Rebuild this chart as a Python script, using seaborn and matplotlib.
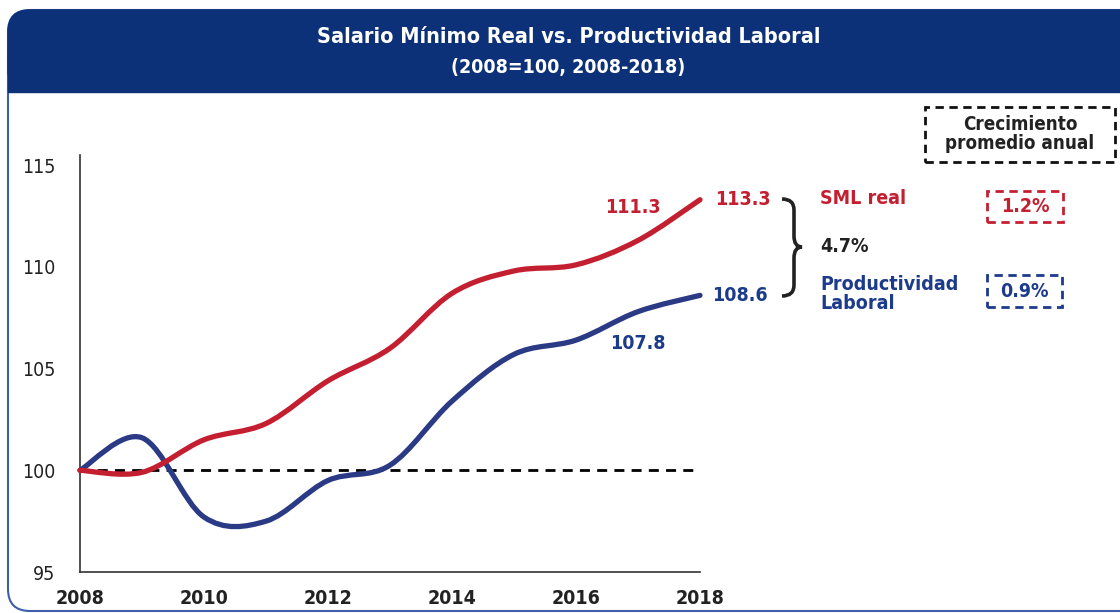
import numpy as np
import matplotlib
matplotlib.use('Agg')
import matplotlib.pyplot as plt
import seaborn as sns
from matplotlib.path import Path
from matplotlib.patches import PathPatch, FancyBboxPatch, Rectangle
from matplotlib.transforms import IdentityTransform

# 数据 (2008=100)
years = [2008, 2009, 2010, 2011, 2012, 2013, 2014, 2015, 2016, 2017, 2018]
sml_real = [100.0, 99.9, 101.5, 102.3, 104.4, 106.0, 108.7, 109.8, 110.1, 111.3, 113.3]
productividad = [100.0, 101.6, 97.7, 97.5, 99.5, 100.25, 103.4, 105.7, 106.4, 107.8, 108.6]
year_ticks = [2008, 2010, 2012, 2014, 2016, 2018]
y_ticks = [95, 100, 105, 110, 115]
brecha = '4.7%'
crec_sml = '1.2%'
crec_prod = '0.9%'

RED = '#c41f30'
NAVY = '#1d3b8b'
LINE_BLUE = '#2b3a85'
BANNER = '#0d3179'
BORDER = '#3d5ea8'

sns.set_theme(style='white')
plt.rcParams['font.family'] = ['DejaVu Sans']
plt.rcParams['font.stretch'] = 'condensed'

W, H = 1120, 613
fig = plt.figure(figsize=(W / 100, H / 100), dpi=100)
fig.patch.set_facecolor('white')


def px(x, y):
    # 像素坐标 (左上原点) -> 图坐标
    return x / W, 1 - y / H


# 外框和标题栏
outer = FancyBboxPatch((8, H - 611), 1140, 601, boxstyle='round,pad=0,rounding_size=22',
                       transform=IdentityTransform(), facecolor='white', edgecolor=BORDER,
                       lw=1.5, zorder=-10)
fig.patches.append(outer)
banner = FancyBboxPatch((8, H - 92), 1140, 82, boxstyle='round,pad=0,rounding_size=22',
                        transform=IdentityTransform(), facecolor=BANNER, edgecolor=BANNER,
                        lw=1, zorder=-9)
fig.patches.append(banner)
fig.patches.append(Rectangle((8, H - 92), 1140, 40, transform=IdentityTransform(),
                             facecolor=BANNER, edgecolor=BANNER, lw=1, zorder=-8))

fig.text(*px(569, 37), 'Salario Mínimo Real vs. Productividad Laboral', color='white',
         fontsize=15.5, fontweight='bold', ha='center', va='center')
fig.text(*px(568, 68), '(2008=100, 2008-2018)', color='white',
         fontsize=14, fontweight='bold', ha='center', va='center')

# 主图
ax = fig.add_axes([80 / W, 1 - 572 / H, 620 / W, (572 - 155) / H])
ax.set_facecolor('none')


def smooth_path(xs, ys):
    # 平滑曲线 (类似 Excel 的平滑线)
    p = np.column_stack([xs, ys]).astype(float)
    pe = np.vstack([p[0], p, p[-1]])
    verts = [p[0]]
    codes = [Path.MOVETO]
    for i in range(len(p) - 1):
        p0, p1, p2, p3 = pe[i], pe[i + 1], pe[i + 2], pe[i + 3]
        verts += [p1 + (p2 - p0) / 6, p2 - (p3 - p1) / 6, p2]
        codes += [Path.CURVE4] * 3
    return Path(verts, codes)


ax.axhline(100, color='black', lw=2, ls=(0, (3.6, 2.6)), zorder=2)
for vals, c in [(productividad, LINE_BLUE), (sml_real, RED)]:
    ax.add_patch(PathPatch(smooth_path(years, vals), facecolor='none', edgecolor=c,
                           lw=3.8, capstyle='round', joinstyle='round', clip_on=False, zorder=3))

ax.set_xlim(2008, 2018)
ax.set_ylim(95, 115.5)
ax.set_xticks(year_ticks)
ax.set_xticklabels([str(y) for y in year_ticks], fontsize=14, fontweight='bold', color='#222222')
ax.set_yticks(y_ticks)
ax.set_yticklabels([str(y) for y in y_ticks], fontsize=14, color='#222222')
ax.tick_params(length=0)
ax.tick_params(axis='x', pad=12)
ax.tick_params(axis='y', pad=18)
sns.despine(ax=ax)
for s in ['left', 'bottom']:
    ax.spines[s].set_color('#333333')
    ax.spines[s].set_linewidth(1.2)

# 数据标签
lab = dict(fontsize=14, fontweight='bold', ha='center', va='center', textcoords='offset points')
ax.annotate(f'{sml_real[-2]:.1f}', (years[-2], sml_real[-2]), xytext=(-4, 24), color=RED, **lab)
ax.annotate(f'{sml_real[-1]:.1f}', (years[-1], sml_real[-1]), xytext=(31, 0), color=RED, **lab)
ax.annotate(f'{productividad[-1]:.1f}', (years[-1], productividad[-1]), xytext=(29, 0), color=NAVY, **lab)
ax.annotate(f'{productividad[-2]:.1f}', (years[-2], productividad[-2]), xytext=(0, -23), color=NAVY, **lab)

# 大括号
bv = [(782, 199), (794, 199), (794, 210), (794, 236), (794, 247), (802, 247),
      (794, 247), (794, 258), (794, 285), (794, 296), (782, 296)]
bc = [Path.MOVETO, Path.CURVE3, Path.CURVE3, Path.LINETO, Path.CURVE3, Path.CURVE3,
      Path.CURVE3, Path.CURVE3, Path.LINETO, Path.CURVE3, Path.CURVE3]
fig.patches.append(PathPatch(Path([(x, H - y) for x, y in bv], bc), transform=IdentityTransform(),
                             facecolor='none', edgecolor='#222222', lw=2.6))

side = dict(fontsize=14, fontweight='bold', ha='left', va='center')
fig.text(*px(820, 198), 'SML real', color=RED, **side)
fig.text(*px(820, 247), brecha, color='#222222', **side)
fig.text(*px(820, 294), 'Productividad\nLaboral', color=NAVY, linespacing=0.95, **side)


def dashed_box(x0, y0, x1, y1, color):
    fig.patches.append(Rectangle((x0, H - y1), x1 - x0, y1 - y0, transform=IdentityTransform(),
                                 facecolor='none', edgecolor=color, lw=2, ls=(0, (3, 2))))


dashed_box(925, 107, 1115, 162, '#111111')
fig.text(*px(1020, 134), 'Crecimiento\npromedio anual', color='#222222', fontsize=13.5,
         fontweight='bold', ha='center', va='center', linespacing=1.05)
dashed_box(987, 191, 1063, 222, RED)
fig.text(*px(1025, 207), crec_sml, color=RED, fontsize=14, fontweight='bold', ha='center', va='center')
dashed_box(987, 275, 1062, 307, NAVY)
fig.text(*px(1024, 292), crec_prod, color=NAVY, fontsize=14, fontweight='bold', ha='center', va='center')

fig.savefig('out.png', dpi=100)
